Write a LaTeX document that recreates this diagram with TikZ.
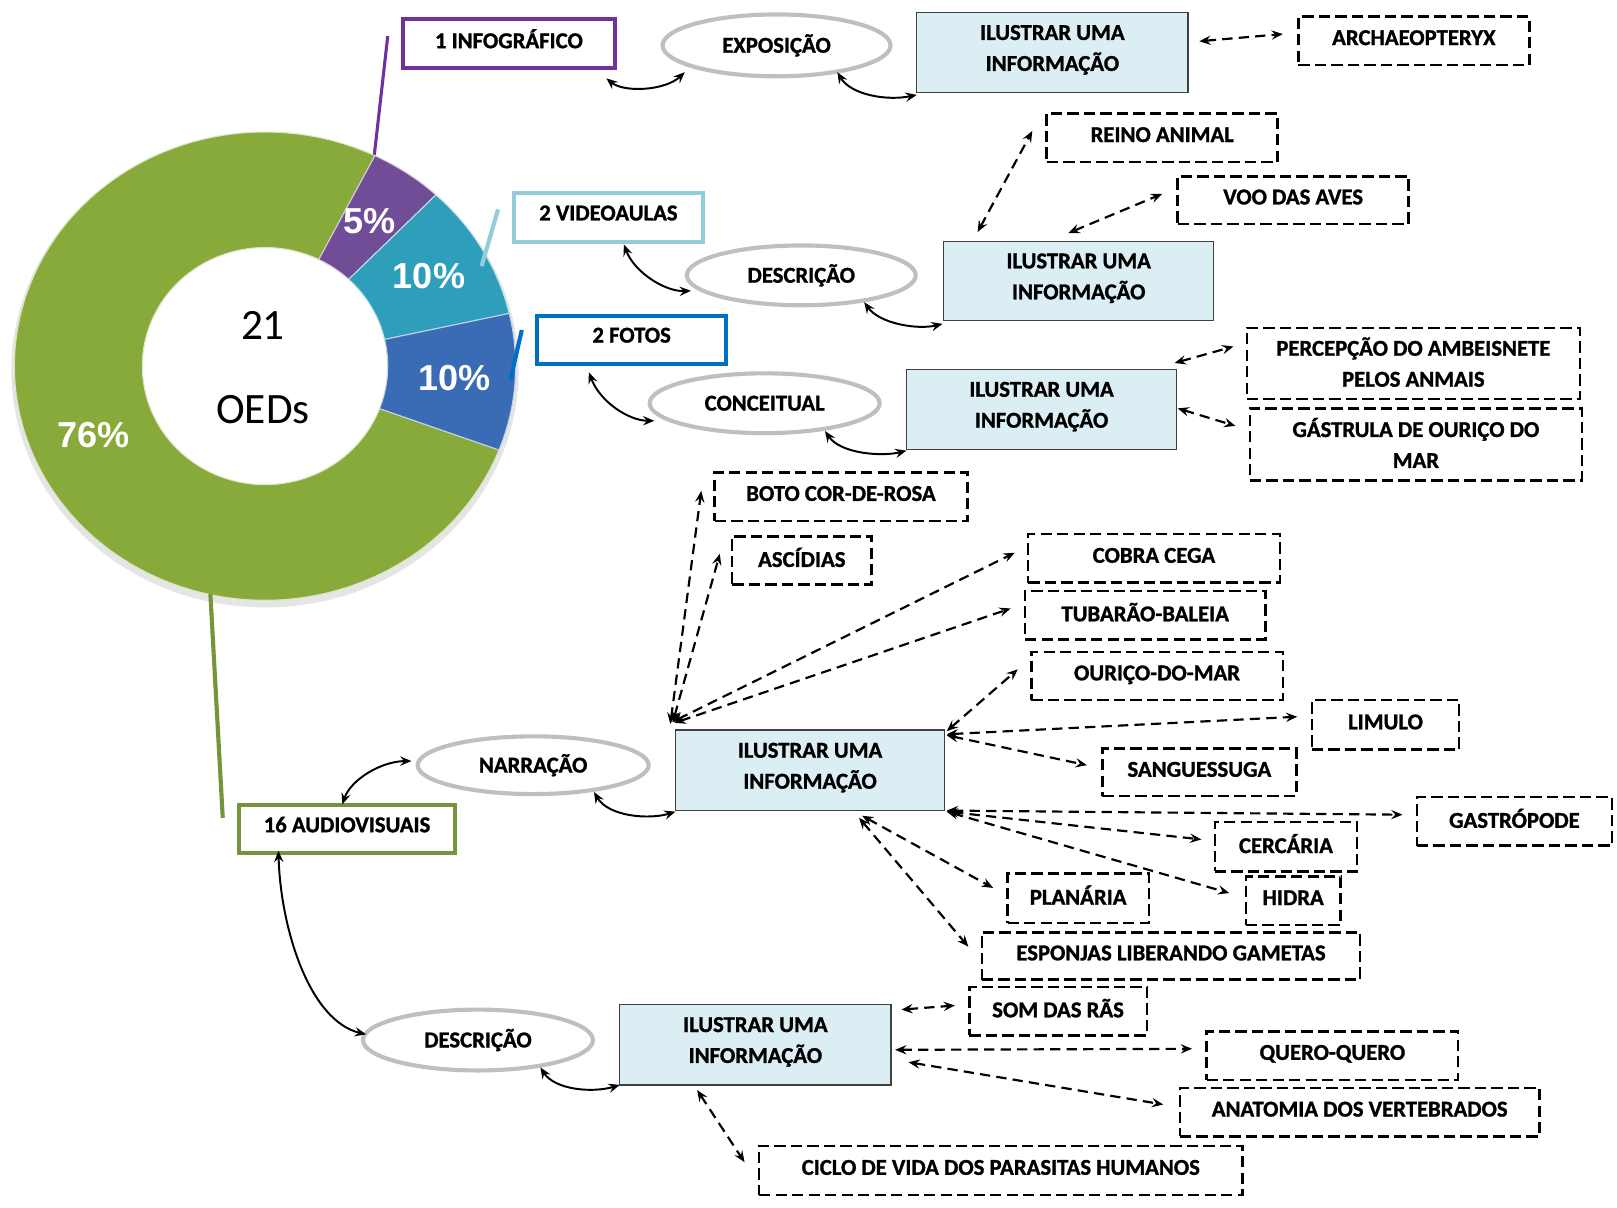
\documentclass[tikz,border=0pt]{standalone}
\usepackage{fontspec}
\setmainfont{Carlito}[BoldFeatures={FakeBold=1.2}]
\newfontfamily\pctfont{Liberation Sans}
\usetikzlibrary{arrows.meta,shapes.geometric}

\definecolor{catpurple}{HTML}{7030A0}
\definecolor{catcyan}{HTML}{92CDDC}
\definecolor{catblue}{HTML}{0070C0}
\definecolor{catgreen}{HTML}{77933C}
\definecolor{slgreen}{HTML}{88AA3A}
\definecolor{slpurple}{HTML}{714D98}
\definecolor{slcyan}{HTML}{2E9EBB}
\definecolor{slblue}{HTML}{3A6CB5}
\definecolor{ovalgray}{HTML}{BFBFBF}
\definecolor{infofill}{HTML}{DBEEF3}
\definecolor{boxedge}{HTML}{404040}

\begin{document}
\begin{tikzpicture}[x=1pt,y=-1pt,
  >={Stealth[length=11pt,width=9pt,inset=4pt]},
  lbl/.style={font=\bfseries\fontsize{22}{30}\selectfont, text=black, align=center, inner sep=0pt},
  catbox/.style={lbl, rectangle, draw=#1, line width=4pt, fill=white, text depth=9pt},
  oval/.style={lbl, ellipse, draw=ovalgray, line width=4pt, fill=white},
  infobox/.style={lbl, rectangle, draw=boxedge, line width=1.3pt, fill=infofill, text depth=9pt},
  itembox/.style={lbl, rectangle, draw=black, line width=2.4pt, dash pattern=on 11pt off 5pt, fill=white, text depth=6pt},
  twoline/.style={text depth=3pt},
  link/.style={<->, line width=1.9pt},
  dlink/.style={<->, line width=2.1pt, dash pattern=on 10pt off 6pt},
  pct/.style={font=\pctfont\bfseries\fontsize{35}{35}\selectfont, text=white, inner sep=0pt},
  leader/.style={line width=#1},
]
\useasboundingbox (0,0) rectangle (1568,1171);
\fill[white] (0,0) rectangle (1568,1171);

% ---- doughnut chart: 21 OEDs ----
\begin{scope}[shift={(257,355)}]
  \fill[black!10] (0,4) ellipse [x radius=246, y radius=230];
  \fill[white] (0,0) ellipse [x radius=119, y radius=115];
  \foreach \a/\b/\c in {21/296/slgreen, -64/-47/slpurple, -47/-13/slcyan, -13/21/slblue}{
    \fill[\c, draw=white!70!\c, line width=1pt]
      (\a:243 and 227) arc[start angle=\a, end angle=\b, x radius=243, y radius=227]
      -- (\b:119 and 115) arc[start angle=\b, end angle=\a, x radius=119, y radius=115]
      -- cycle;
  }
\end{scope}
\node[font=\fontsize{42}{42}\selectfont, inner sep=0pt] (n21) at (255,316) {21};
\node[font=\fontsize{42}{42}\selectfont, inner sep=0pt] (noed) at (255,397) {OEDs};
\node[pct] (p5) at (358,214) {5\%};
\node[pct] (p10a) at (416,268) {10\%};
\node[pct] (p10b) at (441,367) {10\%};
\node[pct] (p76) at (91,422) {76\%};

% ---- category boxes and leader lines ----
\node[catbox=catpurple, minimum width=205pt, minimum height=48pt] (info) at (493.5,42) {1 INFOGRÁFICO};
\node[catbox=catcyan, minimum width=184pt, minimum height=48pt] (video) at (590,211) {2 VIDEOAULAS};
\node[catbox=catblue, minimum width=183pt, minimum height=47pt] (fotos) at (612.5,329.5) {2 FOTOS};
\node[catbox=catgreen, minimum width=209pt, minimum height=46pt] (audio) at (336.5,804) {16 AUDIOVISUAIS};

\coordinate (lp1) at (376,35);  \coordinate (lp2) at (363,150);
\coordinate (lc1) at (483,203); \coordinate (lc2) at (467,258);
\coordinate (lb1) at (506,320); \coordinate (lb2) at (495,368);
\coordinate (lg1) at (204,576); \coordinate (lg2) at (216,793);
\draw[catpurple, leader=3pt] (lp1) -- (lp2);
\draw[catcyan, leader=4pt] (lc1) -- (lc2);
\draw[catblue, leader=4pt] (lb1) -- (lb2);
\draw[catgreen, leader=4pt] (lg1) -- (lg2);

% ---- modes of presentation ----
\node[oval, minimum width=221pt, minimum height=60pt] (expo) at (753,44) {EXPOSIÇÃO};
\node[oval, minimum width=222pt, minimum height=58pt] (desc1) at (777,267) {DESCRIÇÃO};
\node[oval, minimum width=223pt, minimum height=58pt] (conc) at (741.5,391) {CONCEITUAL};
\node[oval, minimum width=224pt, minimum height=56pt] (narr) at (517,742) {NARRAÇÃO};
\node[oval, minimum width=223pt, minimum height=59pt] (desc2) at (463.5,1008.5) {DESCRIÇÃO};

% ---- purpose boxes ----
\node[infobox, minimum width=263pt, minimum height=78pt] (b1) at (1020.5,51) {ILUSTRAR UMA\\INFORMAÇÃO};
\node[infobox, minimum width=262pt, minimum height=77pt] (b2) at (1046,272.5) {ILUSTRAR UMA\\INFORMAÇÃO};
\node[infobox, minimum width=262pt, minimum height=78pt] (b3) at (1010,397) {ILUSTRAR UMA\\INFORMAÇÃO};
\node[infobox, minimum width=261pt, minimum height=78pt] (b4) at (785.5,747) {ILUSTRAR UMA\\INFORMAÇÃO};
\node[infobox, minimum width=263pt, minimum height=78pt] (b5) at (732.5,1013) {ILUSTRAR UMA\\INFORMAÇÃO};

% ---- topics ----
\node[itembox, minimum width=224pt, minimum height=47pt] (arch) at (1371,39.5) {ARCHAEOPTERYX};
\node[itembox, minimum width=224pt, minimum height=47pt] (reino) at (1127,133.5) {REINO ANIMAL};
\node[itembox, minimum width=224pt, minimum height=46pt] (voo) at (1254,194) {VOO DAS AVES};
\node[itembox, twoline, minimum width=323pt, minimum height=69pt] (perc) at (1370.5,352.5) {PERCEPÇÃO DO AMBEISNETE\\PELOS ANMAIS};
\node[itembox, twoline, minimum width=322pt, minimum height=70pt] (gast) at (1373,431) {GÁSTRULA DE OURIÇO DO\\MAR};
\node[itembox, minimum width=245pt, minimum height=47pt] (boto) at (815.5,481.5) {BOTO COR-DE-ROSA};
\node[itembox, minimum width=135pt, minimum height=47pt] (asci) at (777.5,543.5) {ASCÍDIAS};
\node[itembox, minimum width=244pt, minimum height=47pt] (cobra) at (1119,541.5) {COBRA CEGA};
\node[itembox, minimum width=233pt, minimum height=47pt] (tuba) at (1110.5,596.5) {TUBARÃO-BALEIA};
\node[itembox, minimum width=244pt, minimum height=47pt] (ouri) at (1122,655.5) {OURIÇO-DO-MAR};
\node[itembox, minimum width=143pt, minimum height=48pt] (limu) at (1343.5,703) {LIMULO};
\node[itembox, minimum width=188pt, minimum height=46pt] (sang) at (1163,749) {SANGUESSUGA};
\node[itembox, minimum width=189pt, minimum height=47pt] (gastro) at (1468.5,796.5) {GASTRÓPODE};
\node[itembox, minimum width=138pt, minimum height=48pt] (cerc) at (1247,821) {CERCÁRIA};
\node[itembox, minimum width=92pt, minimum height=47pt] (hidra) at (1254,873.5) {HIDRA};
\node[itembox, minimum width=137pt, minimum height=48pt] (plan) at (1045.5,871) {PLANÁRIA};
\node[itembox, minimum width=367pt, minimum height=46pt] (espo) at (1135.5,927) {ESPONJAS LIBERANDO GAMETAS};
\node[itembox, minimum width=172pt, minimum height=47pt] (som) at (1026,980.5) {SOM DAS RÃS};
\node[itembox, minimum width=244pt, minimum height=47pt] (quero) at (1292,1023.5) {QUERO-QUERO};
\node[itembox, minimum width=349pt, minimum height=47pt] (anat) at (1318.5,1078.5) {ANATOMIA DOS VERTEBRADOS};
\node[itembox, minimum width=469pt, minimum height=48pt] (ciclo) at (970.5,1135) {CICLO DE VIDA DOS PARASITAS HUMANOS};

% ---- solid links: category -> mode -> purpose ----
\draw[link] ([shift={(94.5,34)}]info.center) .. controls (605,90) and (645,88) .. ([shift={(-89,26)}]expo.center);
\draw[link] ([shift={(59,26)}]expo.center) .. controls (825,92) and (860,98) .. ([shift={(-131.5,41)}]b1.center);
\draw[link] ([shift={(15,26)}]video.center) .. controls (615,264) and (645,283) .. ([shift={(-107,15)}]desc1.center);
\draw[link] ([shift={(61,26)}]desc1.center) .. controls (853,314) and (890,320) .. ([shift={(-132,41.5)}]b2.center);
\draw[link] ([shift={(-41.5,31.5)}]fotos.center) .. controls (582,390) and (610,408) .. ([shift={(-107,17)}]conc.center);
\draw[link] ([shift={(58.5,27)}]conc.center) .. controls (815,440) and (855,443) .. ([shift={(-131,40)}]b3.center);
\draw[link] ([shift={(-4.5,-24)}]audio.center) .. controls (340,756) and (370,738) .. ([shift={(-118,-4)}]narr.center);
\draw[link] ([shift={(59,26)}]narr.center) .. controls (590,792) and (630,795) .. ([shift={(-130.5,40)}]b4.center);
\draw[link] ([shift={(-66.5,21)}]audio.center) .. controls (272,900) and (300,990) .. ([shift={(-108.5,-5.5)}]desc2.center);
\draw[link] ([shift={(60.5,26.5)}]desc2.center) .. controls (538,1057) and (575,1060) .. ([shift={(-131.5,39)}]b5.center);

% ---- dashed links: purpose -> topic ----
\draw[dlink] ([shift={(142.5,-11)}]b1.center) -- ([shift={(-127,-6.5)}]arch.center);
\draw[dlink] ([shift={(-98,-47.5)}]b2.center) -- ([shift={(-126,-6.5)}]reino.center);
\draw[dlink] ([shift={(-10,-46.5)}]b2.center) -- ([shift={(-127,-6)}]voo.center);
\draw[dlink] ([shift={(129,-45)}]b3.center) -- ([shift={(-174.5,-16.5)}]perc.center);
\draw[dlink] ([shift={(132,-1)}]b3.center) -- ([shift={(-175,-18)}]gast.center);
\draw[dlink] ([shift={(-135.5,-45)}]b4.center) -- ([shift={(-135.5,-5.5)}]boto.center);
\draw[dlink] ([shift={(-133,-47)}]b4.center) -- ([shift={(-79.5,-6.5)}]asci.center);
\draw[dlink] ([shift={(-133.5,-47)}]b4.center) -- ([shift={(-135,-5.5)}]cobra.center);
\draw[dlink] ([shift={(-131.5,-46)}]b4.center) -- ([shift={(-130.5,-6.5)}]tuba.center);
\draw[dlink] ([shift={(132.5,-38)}]b4.center) -- ([shift={(-135,-6.5)}]ouri.center);
\draw[dlink] ([shift={(132.5,-35)}]b4.center) -- ([shift={(-85.5,-8)}]limu.center);
\draw[dlink] ([shift={(132.5,-34)}]b4.center) -- ([shift={(-109,-7)}]sang.center);
\draw[dlink] ([shift={(132.5,39)}]b4.center) -- ([shift={(-108.5,-6.5)}]gastro.center);
\draw[dlink] ([shift={(132.5,40)}]b4.center) -- ([shift={(-82,-7)}]cerc.center);
\draw[dlink] ([shift={(132.5,40)}]b4.center) -- ([shift={(-62,-7.5)}]hidra.center);
\draw[dlink] ([shift={(50.5,44)}]b4.center) -- ([shift={(-82.5,-10)}]plan.center);
\draw[dlink] ([shift={(47.5,46)}]b4.center) -- ([shift={(-196.5,-9)}]espo.center);
\draw[dlink] ([shift={(141.5,-34)}]b5.center) -- ([shift={(-100,-5.5)}]som.center);
\draw[dlink] ([shift={(135.5,5)}]b5.center) -- ([shift={(-136,-6.5)}]quero.center);
\draw[dlink] ([shift={(148.5,17)}]b5.center) -- ([shift={(-190.5,-7.5)}]anat.center);
\draw[dlink] ([shift={(-56.5,44)}]b5.center) -- ([shift={(-248.5,-8)}]ciclo.center);
\end{tikzpicture}
\end{document}
